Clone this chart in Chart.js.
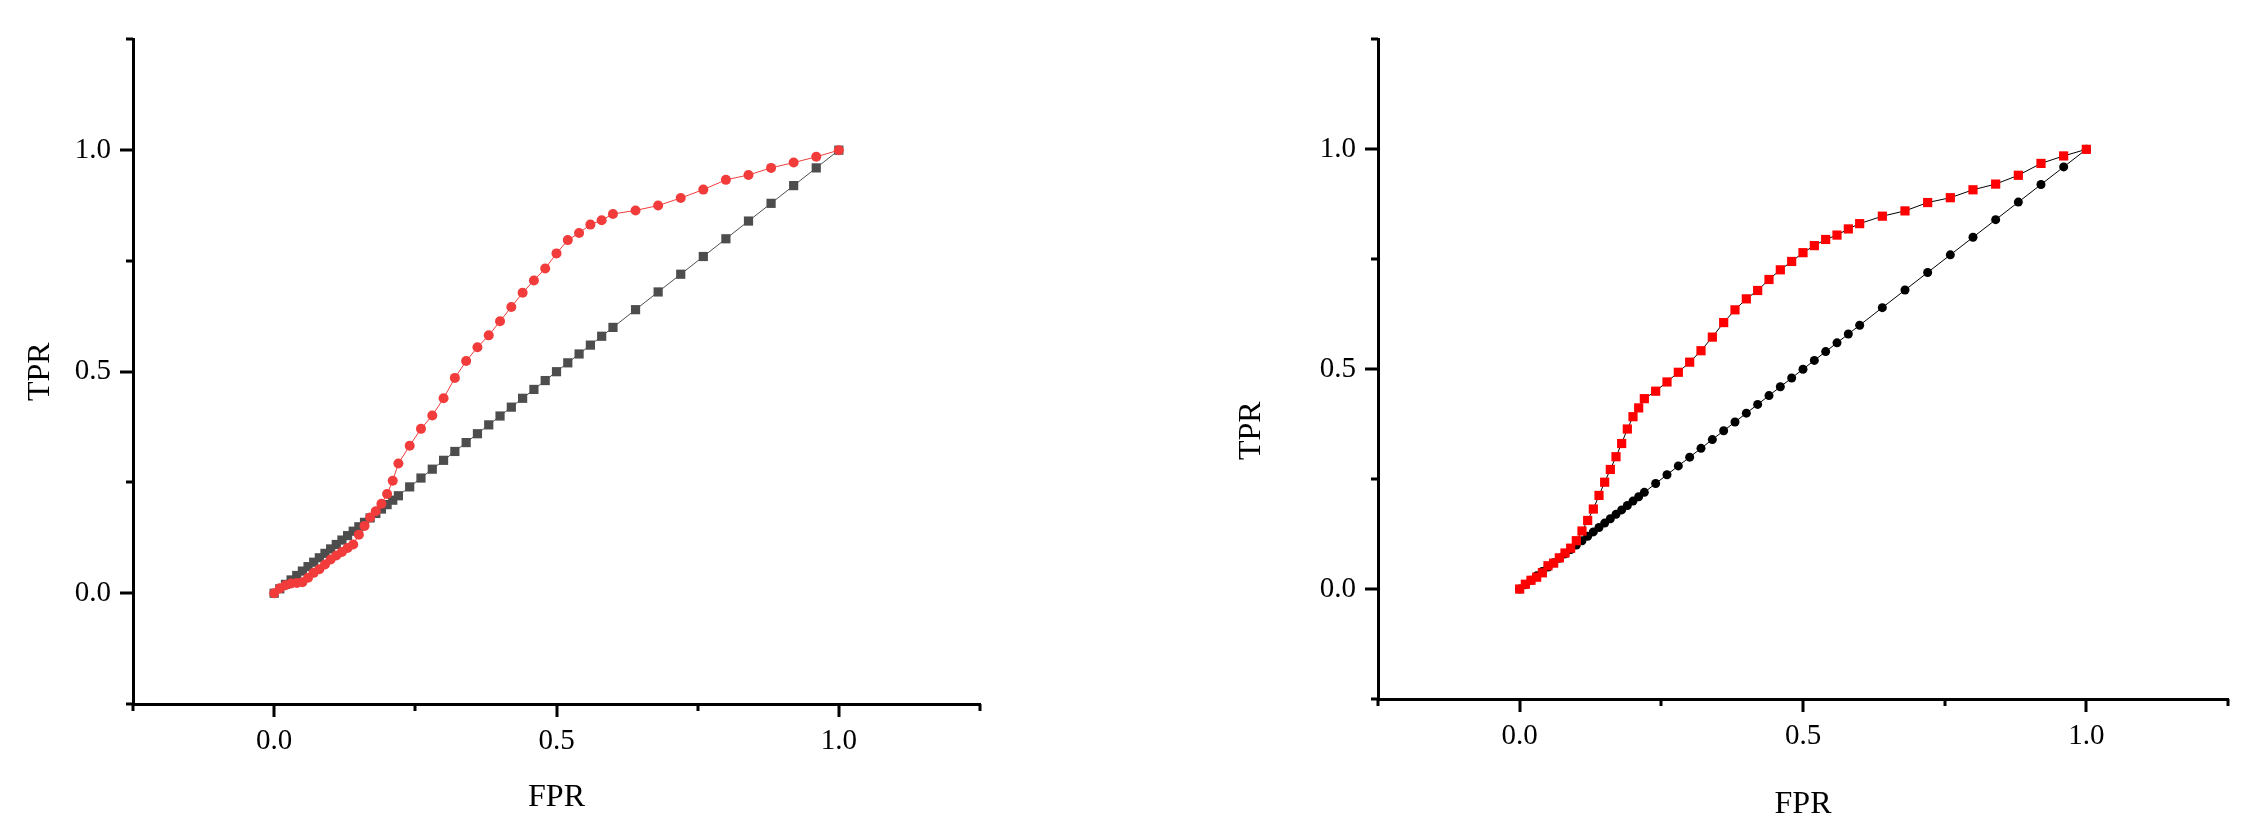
<!DOCTYPE html>
<html>
<head>
<meta charset="utf-8">
<script src="https://cdn.jsdelivr.net/npm/chart.js@4.4.0/dist/chart.umd.min.js"></script>
<style>
  html, body { margin: 0; padding: 0; background: #fff; }
  #page { position: relative; width: 2248px; height: 833px; overflow: hidden; }
  canvas { position: absolute; top: 0; }
  #rocLeft { left: 0; }
  #rocRight { left: 1200px; }
</style>
</head>
<body>
<div id="page">
  <canvas id="rocLeft" width="1000" height="833"></canvas>
  <canvas id="rocRight" width="1048" height="833"></canvas>
</div>
<script>
// FPR thresholds shared by every curve
const fprSteps = [0, 0.01, 0.02, 0.03, 0.04, 0.05, 0.06, 0.07, 0.08, 0.09, 0.10, 0.11,
  0.12, 0.13, 0.14, 0.15, 0.16, 0.17, 0.18, 0.19, 0.20, 0.21, 0.22,
  0.24, 0.26, 0.28, 0.30, 0.32, 0.34, 0.36, 0.38, 0.40, 0.42, 0.44, 0.46, 0.48, 0.50,
  0.52, 0.54, 0.56, 0.58, 0.60,
  0.64, 0.68, 0.72, 0.76, 0.80, 0.84, 0.88, 0.92, 0.96, 1.00];

// left panel
const leftBaseTpr = [0, 0.01, 0.02, 0.03, 0.04, 0.05, 0.06, 0.07, 0.08, 0.09, 0.10, 0.11,
  0.12, 0.13, 0.14, 0.15, 0.16, 0.17, 0.18, 0.19, 0.20, 0.21, 0.22,
  0.24, 0.26, 0.28, 0.30, 0.32, 0.34, 0.36, 0.38, 0.40, 0.42, 0.44, 0.46, 0.48, 0.50,
  0.52, 0.54, 0.56, 0.58, 0.60,
  0.64, 0.68, 0.72, 0.76, 0.80, 0.84, 0.88, 0.92, 0.96, 1.00];
const leftModelTpr = [0, 0.011, 0.018, 0.022, 0.023, 0.025, 0.035, 0.046, 0.054, 0.065, 0.076, 0.085,
  0.093, 0.102, 0.110, 0.132, 0.152, 0.171, 0.185, 0.202, 0.224, 0.254, 0.293,
  0.333, 0.371, 0.401, 0.440, 0.486, 0.524, 0.555, 0.582, 0.614, 0.646, 0.678, 0.706, 0.733, 0.767,
  0.797, 0.813, 0.832, 0.842, 0.856,
  0.864, 0.875, 0.892, 0.911, 0.933, 0.944, 0.960, 0.972, 0.985, 1.0];

// right panel
const rightBaseTpr = [0, 0.01, 0.02, 0.03, 0.04, 0.05, 0.06, 0.07, 0.08, 0.09, 0.10, 0.11,
  0.12, 0.13, 0.14, 0.15, 0.16, 0.17, 0.18, 0.19, 0.20, 0.21, 0.22,
  0.24, 0.26, 0.28, 0.30, 0.32, 0.34, 0.36, 0.38, 0.40, 0.42, 0.44, 0.46, 0.48, 0.50,
  0.52, 0.54, 0.56, 0.58, 0.60,
  0.64, 0.68, 0.72, 0.76, 0.80, 0.84, 0.88, 0.92, 0.96, 1.00];
const rightModelTpr = [0, 0.011, 0.020, 0.027, 0.037, 0.053, 0.059, 0.071, 0.082, 0.093, 0.110, 0.132,
  0.156, 0.182, 0.213, 0.243, 0.272, 0.301, 0.331, 0.364, 0.392, 0.412, 0.433,
  0.450, 0.471, 0.493, 0.516, 0.542, 0.573, 0.606, 0.635, 0.660, 0.679, 0.704, 0.726, 0.745, 0.765,
  0.781, 0.795, 0.805, 0.819, 0.831,
  0.848, 0.860, 0.879, 0.890, 0.908, 0.921, 0.941, 0.968, 0.985, 1.0];

const labelledTicks = [0, 0.5, 1];
const serif = '"Liberation Serif", "DejaVu Serif", serif';

const toPoints = (xs, ys) => xs.map((x, i) => ({ x: x, y: ys[i] }));
const isLabelled = v => labelledTicks.some(t => Math.abs(t - v) < 1e-9);

// outward tick marks, long for labelled ones
const tickMarks = {
  id: 'tickMarks',
  afterDraw(chart) {
    const { ctx, chartArea, scales } = chart;
    ctx.save();
    ctx.strokeStyle = '#000';
    ctx.lineWidth = 3;
    ctx.beginPath();
    scales.x.ticks.forEach(t => {
      const px = Math.round(scales.x.getPixelForValue(t.value));
      ctx.moveTo(px, chartArea.bottom);
      ctx.lineTo(px, chartArea.bottom + (isLabelled(t.value) ? 13 : 7));
    });
    scales.y.ticks.forEach(t => {
      const py = Math.round(scales.y.getPixelForValue(t.value));
      ctx.moveTo(chartArea.left, py);
      ctx.lineTo(chartArea.left - (isLabelled(t.value) ? 13 : 7), py);
    });
    ctx.stroke();
    ctx.restore();
  }
};

// rotated y title, placed at a data level
const sideTitle = {
  id: 'sideTitle',
  afterDraw(chart, args, opts) {
    const ctx = chart.ctx;
    const y = chart.scales.y.getPixelForValue(opts.atValue);
    ctx.save();
    ctx.translate(opts.x, y);
    ctx.rotate(-Math.PI / 2);
    ctx.font = '32px ' + serif;
    ctx.fillStyle = '#000';
    ctx.textAlign = 'center';
    ctx.textBaseline = 'middle';
    ctx.fillText(opts.text, 0, 0);
    ctx.restore();
  }
};

function axis(extra) {
  return Object.assign({
    type: 'linear',
    min: -0.25,
    max: 1.25,
    grid: { display: false, drawTicks: false },
    border: { display: true, color: '#000', width: 3 },
    ticks: {
      stepSize: 0.25,
      color: '#000',
      font: { family: serif, size: 29 },
      maxRotation: 0,
      autoSkip: false,
      callback: v => isLabelled(v) ? v.toFixed(1) : ''
    }
  }, extra);
}

function rocChart(id, datasets, layout) {
  const xAxis = axis({
    afterFit: s => { s.height = layout.xHeight; },
    title: {
      display: true, text: 'FPR', color: '#000',
      font: { family: serif, size: 32 },
      padding: { top: 0, bottom: layout.fprPad }
    }
  });
  xAxis.ticks.padding = 20;
  const yAxis = axis({ afterFit: s => { s.width = layout.yWidth; } });
  yAxis.ticks.padding = 22;

  return new Chart(document.getElementById(id), {
    type: 'scatter',
    data: { datasets: datasets },
    options: {
      responsive: false,
      animation: false,
      devicePixelRatio: 1,
      layout: { padding: { top: layout.top, right: layout.right, left: 0, bottom: 0 } },
      plugins: {
        legend: { display: false },
        tooltip: { enabled: false },
        sideTitle: { text: 'TPR', x: layout.tprX, atValue: layout.tprAt }
      },
      scales: { x: xAxis, y: yAxis }
    },
    plugins: [tickMarks, sideTitle]
  });
}

function series(ys, opts) {
  return Object.assign({
    data: toPoints(fprSteps, ys),
    showLine: true,
    borderWidth: 1,
    pointBorderWidth: 0,
    tension: 0,
    clip: false
  }, opts);
}

rocChart('rocLeft', [
  series(leftModelTpr, {
    borderColor: '#f23c3c', pointBackgroundColor: '#f23c3c',
    pointStyle: 'circle', pointRadius: 5
  }),
  series(leftBaseTpr, {
    borderColor: '#4d4d4d', pointBackgroundColor: '#4d4d4d',
    pointStyle: 'rect', pointRadius: 6.5
  })
], { top: 21, right: 14, yWidth: 133, xHeight: 129, fprPad: 16, tprX: 41, tprAt: 0.5 });

rocChart('rocRight', [
  series(rightModelTpr, {
    borderColor: '#000', pointBackgroundColor: '#ff0000',
    pointStyle: 'rect', pointRadius: 6.5
  }),
  series(rightBaseTpr, {
    borderColor: '#000', pointBackgroundColor: '#000',
    pointStyle: 'circle', pointRadius: 4.5
  })
], { top: 18, right: 16, yWidth: 178, xHeight: 134, fprPad: 9, tprX: 52, tprAt: 0.36 });
</script>
</body>
</html>
